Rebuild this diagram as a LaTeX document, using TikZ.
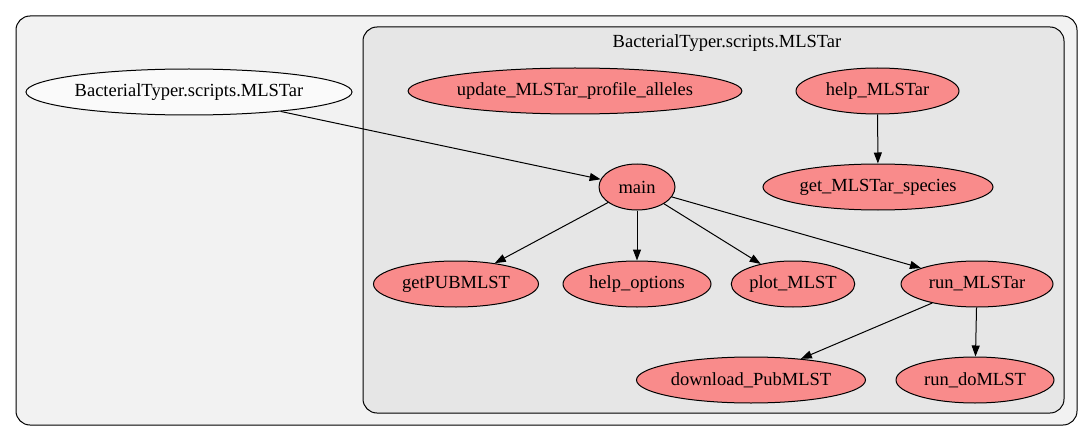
\documentclass[tikz,border=0pt]{standalone}
\usepackage{fontspec}
\setmainfont{Liberation Serif}
\usetikzlibrary{shapes.geometric,arrows.meta}
\definecolor{outerfill}{HTML}{F2F2F2}
\definecolor{innerfill}{HTML}{E6E6E6}
\definecolor{modfill}{HTML}{F98B8B}
\definecolor{extfill}{HTML}{FAFAFA}
\begin{document}
\begin{tikzpicture}[x=1pt,y=-1pt,
  lbl/.style={font=\fontsize{18.5}{20}\selectfont},
  mod/.style={ellipse,draw=black,fill=modfill,line width=1pt,inner sep=0pt,minimum height=46pt,lbl},
  ext/.style={mod,fill=extfill},
  edge/.style={draw=black,line width=1pt,-{Triangle[length=11pt,width=8pt]}},
  cluster/.style={draw=black,line width=1pt,rounded corners=14pt}]
\useasboundingbox (0,0) rectangle (1092,441);
\draw[cluster,fill=outerfill] (16,16) rectangle (1077,425);
\draw[cluster,fill=innerfill] (363,27) rectangle (1064,413);
\node[lbl] (clabel) at (727,43) {BacterialTyper.scripts.MLSTar};
\node[ext,minimum width=326pt] (bt) at (189,92) {BacterialTyper.scripts.MLSTar};
\node[mod,minimum width=332pt] (upd) at (575,91) {update\_MLSTar\_profile\_alleles};
\node[mod,minimum width=163pt] (helpm) at (877.5,91) {help\_MLSTar};
\node[mod,minimum width=230pt] (getsp) at (878,187) {get\_MLSTar\_species};
\node[mod,minimum width=76pt] (main) at (637,187) {main};
\node[mod,minimum width=165pt] (getpub) at (456,284) {getPUBMLST};
\node[mod,minimum width=148pt] (helpo) at (637,284) {help\_options};
\node[mod,minimum width=115pt] (plot) at (793,284) {plot\_MLST};
\node[mod,minimum width=152pt] (run) at (977,284) {run\_MLSTar};
\node[mod,minimum width=229pt] (down) at (751,380) {download\_PubMLST};
\node[mod,minimum width=158pt] (rundo) at (975,380) {run\_doMLST};
\draw[edge] (bt) -- (main);
\draw[edge] (helpm) -- (getsp);
\draw[edge] (main) -- (getpub);
\draw[edge] (main) -- (helpo);
\draw[edge] (main) -- (plot);
\draw[edge] (main) -- (run);
\draw[edge] (run) -- (down);
\draw[edge] (run) -- (rundo);
\end{tikzpicture}
\end{document}
